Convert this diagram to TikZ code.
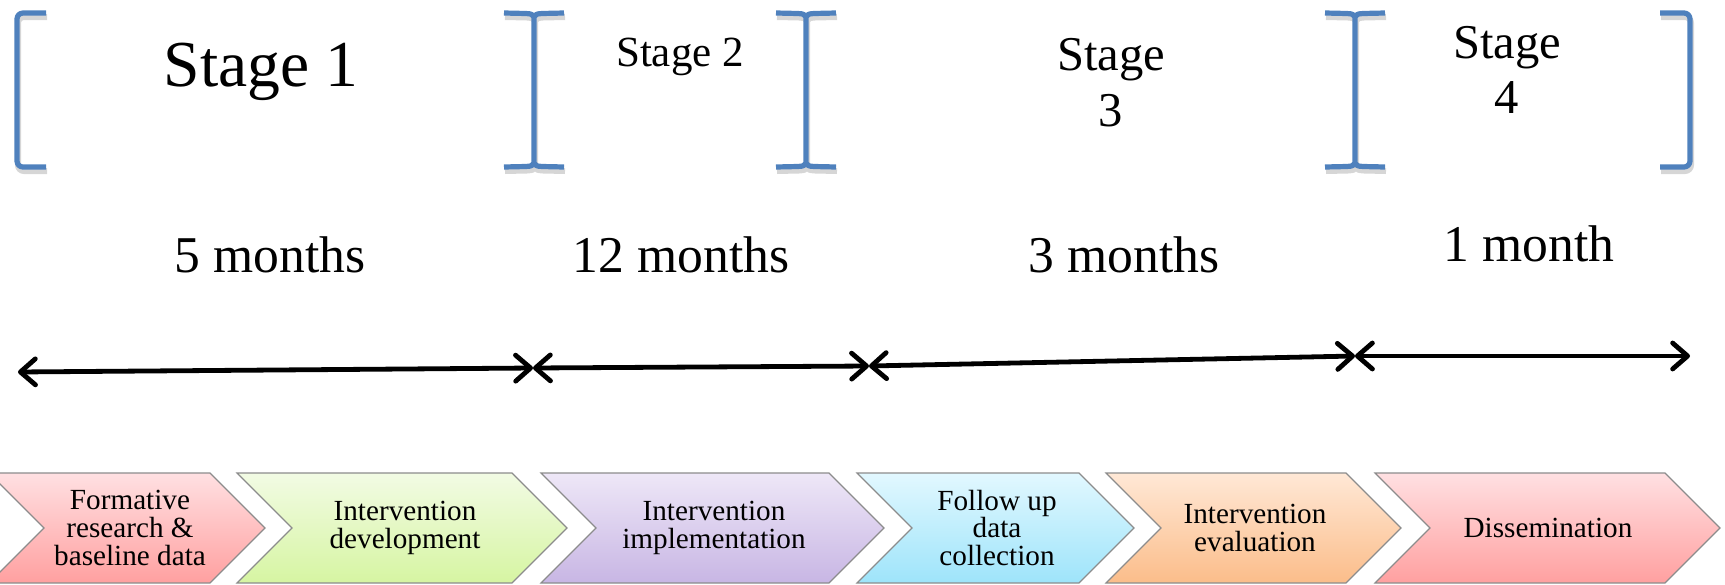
\documentclass[tikz,border=0pt]{standalone}
\usepackage{fontspec}
\setmainfont{Liberation Serif}
\usetikzlibrary{arrows.meta}

\definecolor{brk}{HTML}{4F81BD}
\definecolor{chevline}{HTML}{8C8C8C}
\definecolor{redT}{RGB}{255,224,226}
\definecolor{redB}{RGB}{255,160,160}
\definecolor{grnT}{RGB}{242,251,228}
\definecolor{grnB}{RGB}{214,245,162}
\definecolor{purT}{RGB}{238,231,247}
\definecolor{purB}{RGB}{200,182,228}
\definecolor{bluT}{RGB}{226,248,255}
\definecolor{bluB}{RGB}{158,228,250}
\definecolor{orgT}{RGB}{255,232,214}
\definecolor{orgB}{RGB}{251,189,138}

% I-shaped separator bracket centred on x = #1
\newcommand\ibeam[2]{%
  \draw[#2] ({#1-30},13) -- ({#1-8},13.5) .. controls ({#1-2},14) .. (#1,17) -- (#1,163)
     .. controls ({#1-2},166) .. ({#1-8},166.5) -- ({#1-30},167)
     ({#1+30},13) -- ({#1+8},13.5) .. controls ({#1+2},14) .. (#1,17)
     (#1,163) .. controls ({#1+2},166) .. ({#1+8},166.5) -- ({#1+30},167);}
% chevron with top-left corner x = #1, top-right corner x = #2
\newcommand\chev[3]{%
  \path[chevbox,#3] (#1,473) -- (#2,473) -- ({#2+55},528) -- (#2,583) -- (#1,583) -- ({#1+55},528) -- cycle;}

\begin{document}
\begin{tikzpicture}[x=0.5pt,y=-0.5pt,
  brstroke/.style={draw=brk,line width=2.6pt,line join=round},
  brshadow/.style={draw=black,opacity=0.16,line width=3pt,shift={(1,4)}},
  chevbox/.style={draw=chevline,line width=0.6pt},
  tip/.tip={Straight Barb[length=7.5pt,width=13pt,round]},
  timeline/.style={line width=2.4pt,tip-tip},
  stagebig/.style={font=\fontsize{32.8}{36}\selectfont},
  stagemid/.style={align=center},
  dur/.style={font=\fontsize{25.8}{30}\selectfont},
  steptext/.style={font=\fontsize{14.6}{13.8}\selectfont,align=center}]
\useasboundingbox (0,0) rectangle (1725,584);
\clip (0,0) rectangle (1725,584);

% stage brackets (shadow, then stroke)
\foreach \st in {brshadow,brstroke}{
  \draw[\st,rounded corners=3pt] (46,13) -- (17,13) -- (17,167) -- (46,167);
  \ibeam{534}{\st}
  \ibeam{806}{\st}
  \ibeam{1355}{\st}
  \draw[\st,rounded corners=3pt] (1660,13) -- (1690,13) -- (1690,167) -- (1660,167);
}

% stage titles
\node[stagebig,anchor=base] (s1) at (261,86) {Stage 1};
\node[font=\fontsize{21.5}{24}\selectfont,anchor=base] (s2) at (680,66) {Stage 2};
\node[stagemid,anchor=base,font=\fontsize{24.3}{28}\selectfont] (s3) at (1111,126) {Stage\\3};
\node[stagemid,anchor=base,font=\fontsize{24.3}{27.5}\selectfont] (s4) at (1507,113) {Stage\\4};

% durations
\node[dur,anchor=base] (d1) at (270,272) {5 months};
\node[dur,anchor=base] (d2) at (681,272) {12 months};
\node[dur,anchor=base] (d3) at (1124,272) {3 months};
\node[dur,anchor=base] (d4) at (1529,261) {1 month};

% time line
\coordinate (e0) at (18,372);
\coordinate (j1) at (533,368);
\coordinate (j2) at (869,366);
\coordinate (j3) at (1355,356);
\coordinate (e4) at (1690,356);
\draw[timeline] (e0) -- (j1);
\draw[timeline] (j1) -- (j2);
\draw[timeline] (j2) -- (j3);
\draw[timeline] (j3) -- (e4);

% process chevrons
\chev{-11}{210}{top color=redT,bottom color=redB}
\chev{237}{512}{top color=grnT,bottom color=grnB}
\chev{541}{829}{top color=purT,bottom color=purB}
\chev{857}{1079}{top color=bluT,bottom color=bluB}
\chev{1106}{1346}{top color=orgT,bottom color=orgB}
\chev{1375}{1665}{top color=redT,bottom color=redB}

\node[steptext] (p1) at (130,528) {Formative\\research \&\\baseline data};
\node[steptext] (p2) at (405,528) {Intervention\\development};
\node[steptext] (p3) at (714,528) {Intervention\\implementation};
\node[steptext] (p4) at (997,528) {Follow up\\data\\collection};
\node[steptext] (p5) at (1255,528) {Intervention\\evaluation};
\node[steptext] (p6) at (1548,528) {Dissemination};
\end{tikzpicture}
\end{document}
